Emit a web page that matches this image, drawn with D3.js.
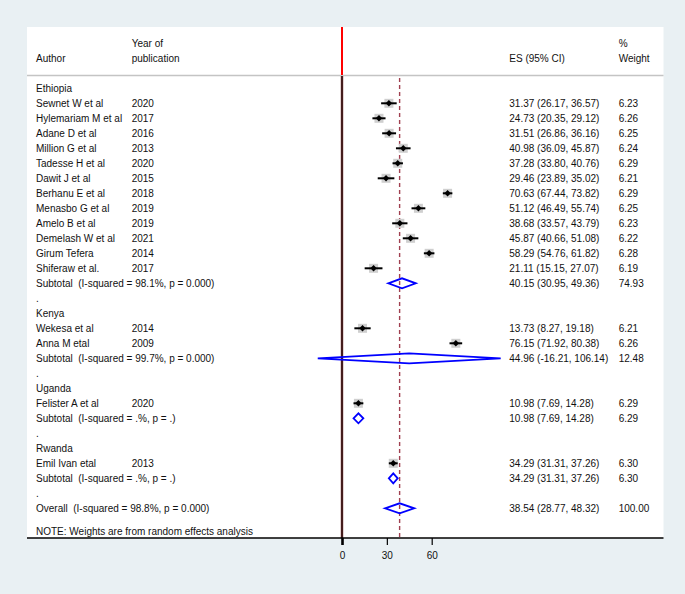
<!DOCTYPE html>
<html>
<head>
<meta charset="utf-8">
<script src="https://cdn.jsdelivr.net/npm/d3@7"></script>
<style>
  html, body { margin: 0; padding: 0; background: #e9f0f3; }
  svg { display: block; }
  text { font-family: "Liberation Sans", Arial, sans-serif; font-size: 10px; fill: #111; white-space: pre; }
</style>
</head>
<body>
<svg id="chart" width="685" height="594"></svg>
<script>
// ---------- data ----------
const countries = ["Ethiopia", "Kenya", "Uganda", "Rwanda"];
const studyCountry = ["Ethiopia","Ethiopia","Ethiopia","Ethiopia","Ethiopia","Ethiopia","Ethiopia","Ethiopia","Ethiopia","Ethiopia","Ethiopia","Ethiopia","Kenya","Kenya","Uganda","Rwanda"];
const authors = ["Sewnet W et al","Hylemariam M et al","Adane D et al","Million G et al","Tadesse H et al","Dawit J et al","Berhanu E et al","Menasbo G et al","Amelo B et al","Demelash W et al","Girum Tefera","Shiferaw et al.","Wekesa et al","Anna M etal","Felister A et al","Emil Ivan etal"];
const years = ["2020","2017","2016","2013","2020","2015","2018","2019","2019","2021","2014","2017","2014","2009","2020","2013"];
const es = [31.37,24.73,31.51,40.98,37.28,29.46,70.63,51.12,38.68,45.87,58.29,21.11,13.73,76.15,10.98,34.29];
const lo = [26.17,20.35,26.86,36.09,33.80,23.89,67.44,46.49,33.57,40.66,54.76,15.15,8.27,71.92,7.69,31.31];
const hi = [36.57,29.12,36.16,45.87,40.76,35.02,73.82,55.74,43.79,51.08,61.82,27.07,19.18,80.38,14.28,37.26];
const weights = ["6.23","6.26","6.25","6.24","6.29","6.21","6.29","6.25","6.23","6.22","6.28","6.19","6.21","6.26","6.29","6.30"];

const subLabels = ["Subtotal  (I-squared = 98.1%, p = 0.000)","Subtotal  (I-squared = 99.7%, p = 0.000)","Subtotal  (I-squared = .%, p = .)","Subtotal  (I-squared = .%, p = .)"];
const subES = [40.15,44.96,10.98,34.29];
const subLo = [30.95,-16.21,7.69,31.31];
const subHi = [49.36,106.14,14.28,37.26];
const subW = ["74.93","12.48","6.29","6.30"];

const overallLabel = "Overall  (I-squared = 98.8%, p = 0.000)";
const overallES = 38.54, overallLo = 28.77, overallHi = 48.32, overallW = "100.00";
const noteText = "NOTE: Weights are from random effects analysis";
const axisTicks = [0, 30, 60];

// ---------- layout ----------
const svg = d3.select("#chart");
const panel = {x0: 27, x1: 663.5, y0: 27, y1: 538};
const nullX = 342;
const x = d3.scaleLinear().domain([0, 60]).range([nullX, 431.7]);
const y = d3.scaleLinear().domain([0, 28]).range([88.3, 508.3]);
const colAuthor = 36, colYear = 131.7, colES = 509.3, colW = 618.7;
const fmt = v => d3.format(".2f")(v).replace("\u2212", "-");

svg.append("rect").attr("x", panel.x0).attr("y", panel.y0)
  .attr("width", panel.x1 - panel.x0).attr("height", panel.y1 - panel.y0).attr("fill", "#fff");

// build rows
const rows = [];
let r = 0;
countries.forEach((c, ci) => {
  rows.push({type: "head", label: c, i: r++});
  studyCountry.forEach((sc, si) => { if (sc === c) rows.push({type: "study", s: si, i: r++}); });
  rows.push({type: "sub", g: ci, i: r++});
  rows.push({type: "dot", i: r++});
});
rows.push({type: "overall", i: r++});

// header
const g = svg.append("g");
function txt(xp, yp, s, anchor) {
  g.append("text").attr("x", xp).attr("y", yp).attr("dy", "0.35em")
    .attr("text-anchor", anchor || "start").text(s);
}
txt(colYear, 43.3, "Year of");
txt(colAuthor, 58.3, "Author");
txt(colYear, 58.3, "publication");
txt(colES, 58.3, "ES (95% CI)");
txt(colW, 43.3, "%");
txt(colW, 58.3, "Weight");

svg.append("line").attr("x1", panel.x0).attr("x2", panel.x1).attr("y1", 75.5).attr("y2", 75.5)
  .attr("stroke", "#c4c4c4").attr("stroke-width", 1.5);

// red line above header rule
svg.append("line").attr("x1", nullX).attr("x2", nullX).attr("y1", panel.y0).attr("y2", 75)
  .attr("stroke", "#ff0000").attr("stroke-width", 2);
// null line
svg.append("line").attr("x1", nullX).attr("x2", nullX).attr("y1", 76).attr("y2", panel.y1)
  .attr("stroke", "#7a2a2a").attr("stroke-width", 2.4);
svg.append("line").attr("x1", nullX).attr("x2", nullX).attr("y1", 76).attr("y2", panel.y1)
  .attr("stroke", "#111").attr("stroke-width", 1);

// overall dashed line
svg.append("line").attr("x1", x(overallES)).attr("x2", x(overallES)).attr("y1", 78).attr("y2", panel.y1)
  .attr("stroke", "#a04050").attr("stroke-width", 1.4).attr("stroke-dasharray", "4,3");

function diamond(ctr, l, h, yc, hh) {
  return `M${x(l)},${yc} L${x(ctr)},${yc - hh} L${x(h)},${yc} L${x(ctr)},${yc + hh} Z`;
}

rows.forEach(row => {
  const yc = y(row.i);
  if (row.type === "head") {
    txt(colAuthor, yc, row.label);
  } else if (row.type === "dot") {
    txt(colAuthor, yc, ".");
  } else if (row.type === "study") {
    const s = row.s;
    txt(colAuthor, yc, authors[s]);
    txt(colYear, yc, years[s]);
    txt(colES, yc, `${fmt(es[s])} (${fmt(lo[s])}, ${fmt(hi[s])})`);
    txt(colW, yc, weights[s]);
    svg.append("rect").attr("x", x(es[s]) - 4.5).attr("y", yc - 4.5).attr("width", 9).attr("height", 9)
      .attr("fill", "#cfcfcf");
    svg.append("line").attr("x1", x(lo[s])).attr("x2", x(hi[s])).attr("y1", yc).attr("y2", yc)
      .attr("stroke", "#000").attr("stroke-width", 2);
    svg.append("path").attr("d", `M${x(es[s]) - 3.2},${yc} L${x(es[s])},${yc - 3.2} L${x(es[s]) + 3.2},${yc} L${x(es[s])},${yc + 3.2} Z`)
      .attr("fill", "#000");
  } else if (row.type === "sub") {
    const k = row.g;
    txt(colAuthor, yc, subLabels[k]);
    txt(colES, yc, `${fmt(subES[k])} (${fmt(subLo[k])}, ${fmt(subHi[k])})`);
    txt(colW, yc, subW[k]);
    svg.append("path").attr("d", diamond(subES[k], subLo[k], subHi[k], yc, 5))
      .attr("fill", "none").attr("stroke", "#0000ff").attr("stroke-width", 1.8);
  } else if (row.type === "overall") {
    txt(colAuthor, yc, overallLabel);
    txt(colES, yc, `${fmt(overallES)} (${fmt(overallLo)}, ${fmt(overallHi)})`);
    txt(colW, yc, overallW);
    svg.append("path").attr("d", diamond(overallES, overallLo, overallHi, yc, 5))
      .attr("fill", "none").attr("stroke", "#0000ff").attr("stroke-width", 1.8);
  }
});
txt(colAuthor, 531, noteText);

// axis
svg.append("line").attr("x1", panel.x0).attr("x2", panel.x1).attr("y1", panel.y1).attr("y2", panel.y1)
  .attr("stroke", "#000").attr("stroke-width", 1.6);
const ax = svg.append("g").attr("transform", `translate(0,${panel.y1})`)
  .call(d3.axisBottom(x).tickValues(axisTicks).tickFormat(d3.format("d")).tickSize(7).tickPadding(7));
ax.select(".domain").remove();
ax.selectAll(".tick line").attr("stroke", "#000").attr("stroke-width", 1.2);
ax.selectAll(".tick").filter(d => d === 0).select("line").attr("stroke-width", 2.6);
ax.selectAll(".tick text").style("font-family", '"Liberation Sans", Arial, sans-serif')
  .style("font-size", "10px").attr("fill", "#111");
</script>
</body>
</html>
